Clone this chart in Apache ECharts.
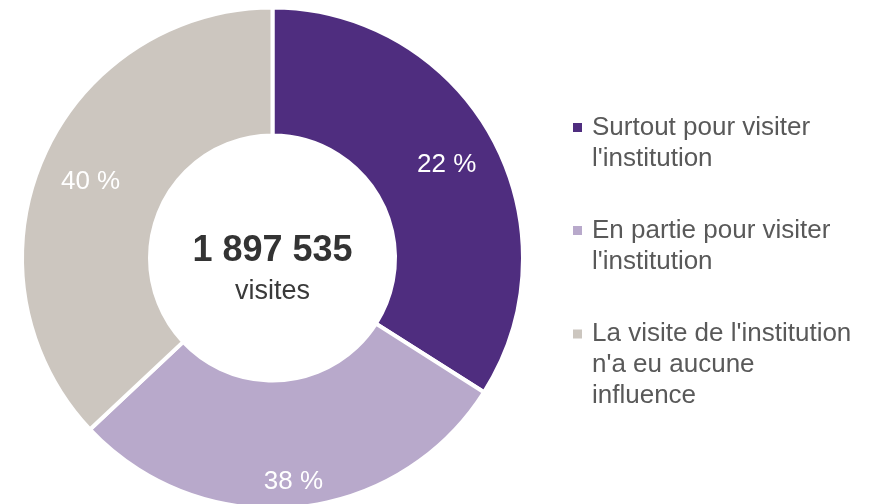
<!DOCTYPE html>
<html><head><meta charset="utf-8">
<script src="https://cdn.jsdelivr.net/npm/echarts@6/dist/echarts.min.js"></script>
<style>html,body{margin:0;padding:0;background:#fff}#c{width:875px;height:504px}</style>
</head><body><div id="c"></div>
<script>
// ---- data ----
const categories = [
  "Surtout pour visiter\nl'institution",
  "En partie pour visiter\nl'institution",
  "La visite de l'institution\nn'a eu aucune\ninfluence"
];
const sliceValues = [34, 29, 37];          // arc shares
const sliceLabels = ['22 %', '38 %', '40 %']; // printed labels
const totalVisits = '1 897 535';
const totalUnit = 'visites';

// ---- style ----
const colors = ['#4F2D7F', '#B8A9CB', '#CCC6BF'];
const FONT = "'Liberation Sans', Arial, sans-serif";
const CX = 272.5, CY = 258;
const labelRadius = [198.7, 221.9, 198.2];
const LH = 31;
const legendTops = [112, 215, 318.5];

function legendFor(i) {
  const lines = categories[i].split('\n').length;
  const h = lines * LH;
  const sq = LH / 2 - 4.5;
  return {
    data: [{ name: categories[i], icon: 'path://M0,0M0,' + sq + 'h9v9h-9zM14,' + h }],
    orient: 'vertical', left: 573, top: legendTops[i], padding: 0,
    itemWidth: 14, itemHeight: h, itemGap: 0, selectedMode: false,
    itemStyle: { borderWidth: 0 },
    textStyle: { fontFamily: FONT, fontSize: 26, color: '#595959', lineHeight: LH }
  };
}

const chart = echarts.init(document.getElementById('c'), null, { renderer: 'canvas' });
chart.setOption({
  backgroundColor: '#fff',
  animation: false,
  legend: categories.map((_, i) => legendFor(i)),
  graphic: [
    { type: 'text', x: CX, y: 251, silent: true,
      style: { text: totalVisits, font: 'bold 36px ' + FONT, fill: '#333333', align: 'center', verticalAlign: 'middle' } },
    { type: 'text', x: CX, y: 291.5, silent: true,
      style: { text: totalUnit, font: '27px ' + FONT, fill: '#3a3a3a', align: 'center', verticalAlign: 'middle' } }
  ],
  series: [{
    type: 'pie',
    center: [CX, CY],
    radius: [122.5, 250.5],
    startAngle: 90,
    clockwise: true,
    silent: true,
    avoidLabelOverlap: false,
    itemStyle: { borderColor: '#ffffff', borderWidth: 4 },
    label: {
      show: true, position: 'inside',
      formatter: p => sliceLabels[p.dataIndex],
      color: '#ffffff', fontSize: 26, fontFamily: FONT
    },
    labelLine: { show: false },
    labelLayout: function (p) {
      const r = p.labelRect;
      const lx = r.x + r.width / 2, ly = r.y + r.height / 2;
      const ddx = lx - CX, ddy = ly - CY;
      const cur = Math.hypot(ddx, ddy) || 1;
      const k = labelRadius[p.dataIndex] / cur;
      return { dx: ddx * (k - 1), dy: ddy * (k - 1) + 3 };
    },
    emphasis: { disabled: true },
    data: categories.map((n, i) => ({ name: n, value: sliceValues[i], itemStyle: { color: colors[i] } }))
  }]
});
</script></body></html>
